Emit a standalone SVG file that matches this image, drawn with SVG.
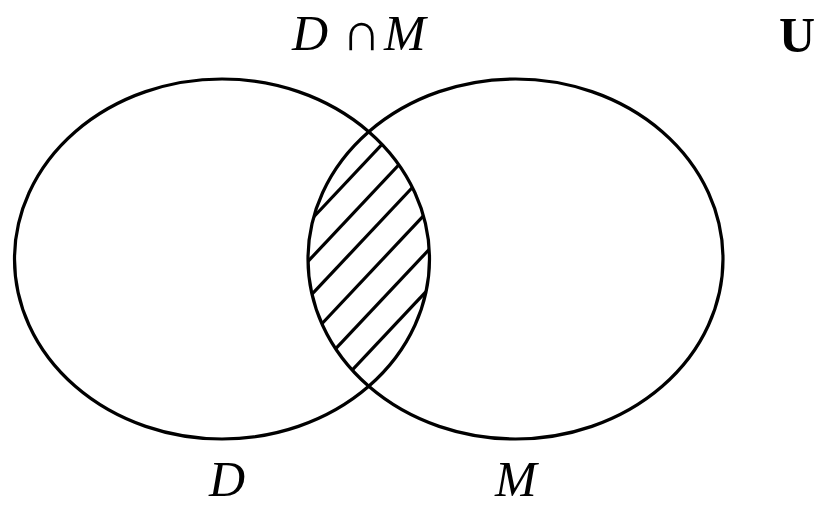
<svg xmlns="http://www.w3.org/2000/svg" width="814" height="507" viewBox="0 0 814 507">
<style>
.e{fill:none;stroke:#000;stroke-width:3.2}
.h{stroke:#000;stroke-width:3.2}
.t{font-family:"Liberation Serif","Times New Roman",serif;font-size:50px;fill:#000}
.i{font-style:italic}
</style>
<defs>
<clipPath id="cl"><ellipse cx="222" cy="259" rx="207.5" ry="180"/></clipPath>
<clipPath id="cr"><ellipse cx="515.5" cy="259" rx="207.5" ry="180"/></clipPath>
</defs>
<g id="hatch" clip-path="url(#cl)">
<g clip-path="url(#cr)">
<line class="h" x1="267.5" y1="266" x2="427.5" y2="96"/>
<line class="h" x1="274" y1="297.5" x2="434" y2="127.5"/>
<line class="h" x1="282.5" y1="325.5" x2="442.5" y2="155.5"/>
<line class="h" x1="292.5" y1="355" x2="452.5" y2="185"/>
<line class="h" x1="302.5" y1="384" x2="462.5" y2="214"/>
<line class="h" x1="309" y1="416" x2="469" y2="246"/>
</g>
</g>
<g id="setD"><ellipse class="e" cx="222" cy="259" rx="207.5" ry="180"/></g>
<g id="setM"><ellipse class="e" cx="515.5" cy="259" rx="207.5" ry="180"/></g>
<g id="labels">
<text class="t" y="50"><tspan class="i" x="292">D</tspan><tspan x="342" font-size="54">∩</tspan><tspan class="i" x="384">M</tspan></text>
<text class="t" x="779" y="52" font-weight="bold">U</text>
<text class="t i" x="209" y="496">D</text>
<text class="t i" x="495" y="496">M</text>
</g>
</svg>
